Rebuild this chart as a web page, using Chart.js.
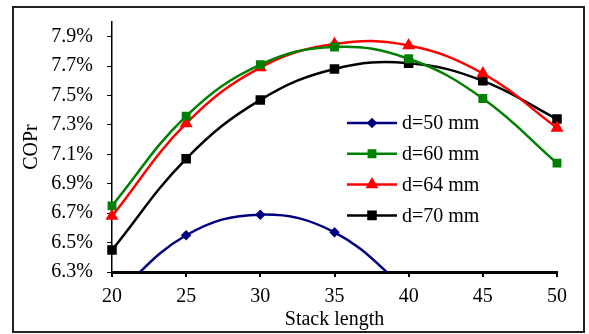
<!DOCTYPE html>
<html>
<head>
<meta charset="utf-8">
<script src="https://cdn.jsdelivr.net/npm/chart.js@4.4.0/dist/chart.umd.min.js"></script>
<style>
  html, body { margin: 0; padding: 0; background: #fff; }
  #wrap { width: 589px; height: 334px; position: relative; }
</style>
</head>
<body>
<div id="wrap"><canvas id="copChart" width="589" height="334"></canvas></div>
<script>
// Datos (COPr en %)
const stackLength = [20, 25, 30, 35, 40, 45, 50];
const yTicks = [6.3, 6.5, 6.7, 6.9, 7.1, 7.3, 7.5, 7.7, 7.9];
const seriesNames = ['d=50 mm', 'd=60 mm', 'd=64 mm', 'd=70 mm'];
const d50 = [6.12, 6.55, 6.69, 6.57, 6.17, null, null];
const d60 = [6.75, 7.36, 7.71, 7.83, 7.75, 7.48, 7.04];
const d64 = [6.68, 7.31, 7.69, 7.85, 7.84, 7.65, 7.28];
const d70 = [6.45, 7.07, 7.47, 7.68, 7.72, 7.60, 7.34];

const fontFamily = '"Liberation Serif", "Times New Roman", serif';

// Marco exterior del gráfico
const framePlugin = {
  id: 'frame',
  afterDraw(chart) {
    const ctx = chart.ctx;
    ctx.save();
    ctx.strokeStyle = '#222';
    ctx.lineWidth = 2;
    ctx.strokeRect(13, 7, 571, 325);
    ctx.restore();
  },
};

// Leyenda dentro del área del gráfico
const legendPlugin = {
  id: 'innerLegend',
  afterDatasetsDraw(chart) {
    const ctx = chart.ctx;
    const x0 = 347, x1 = 397, y0 = 123, step = 30.8;
    ctx.save();
    chart.data.datasets.forEach((ds, i) => {
      const y = y0 + i * step;
      ctx.strokeStyle = ds.borderColor;
      ctx.lineWidth = ds.borderWidth;
      ctx.beginPath();
      ctx.moveTo(x0, y);
      ctx.lineTo(x1, y);
      ctx.stroke();
      ctx.fillStyle = ds.borderColor;
      Chart.helpers.drawPoint(ctx, {
        pointStyle: ds.pointStyle,
        radius: ds.pointRadius,
        rotation: 0,
        borderWidth: 1,
      }, (x0 + x1) / 2, y);
      ctx.fillStyle = '#000';
      ctx.font = '20px ' + fontFamily;
      ctx.textBaseline = 'middle';
      ctx.textAlign = 'left';
      ctx.fillText(ds.label, 402, y + 1);
    });
    ctx.restore();
  },
};

function makeDataset(label, data, color, style, radius) {
  return {
    label: label,
    data: data,
    borderColor: color,
    backgroundColor: color,
    pointBackgroundColor: color,
    pointBorderColor: color,
    borderWidth: 2.5,
    pointStyle: style,
    pointRadius: radius,
    tension: 0.4,
    spanGaps: false,
  };
}

const ctx = document.getElementById('copChart').getContext('2d');
new Chart(ctx, {
  type: 'line',
  data: {
    labels: stackLength,
    datasets: [
      makeDataset(seriesNames[0], d50, '#000080', 'rectRot', 3.5),
      makeDataset(seriesNames[1], d60, '#008000', 'rect', 4.5),
      makeDataset(seriesNames[2], d64, '#ff0000', 'triangle', 5),
      makeDataset(seriesNames[3], d70, '#000000', 'rect', 5),
    ],
  },
  options: {
    responsive: false,
    animation: false,
    devicePixelRatio: 1,
    layout: { padding: { left: 16, right: 32, top: 22, bottom: 1 } },
    plugins: {
      legend: { display: false },
      tooltip: { enabled: false },
    },
    scales: {
      x: {
        type: 'category',
        offset: false,
        grid: { drawOnChartArea: false, tickLength: 5, color: '#000', lineWidth: 2 },
        border: { color: '#000', width: 3 },
        ticks: { color: '#000', font: { family: fontFamily, size: 20 }, padding: 8, maxRotation: 0 },
        title: {
          display: true,
          text: 'Stack length',
          color: '#000',
          font: { family: fontFamily, size: 20 },
          padding: { top: 0, bottom: 1 },
        },
        afterFit(scale) {
          scale.height = 61;
          scale.paddingLeft = 0;
          scale.paddingRight = 0;
        },
      },
      y: {
        min: 6.3,
        max: 8.0,
        grid: { drawOnChartArea: false, tickLength: 5, color: '#000' },
        border: { color: '#000', width: 1.5 },
        ticks: {
          color: '#000',
          font: { family: fontFamily, size: 20 },
          padding: 14,
          callback: (v) => v.toFixed(1) + '%',
        },
        afterBuildTicks(scale) {
          scale.ticks = yTicks.map((v) => ({ value: v }));
        },
        title: {
          display: true,
          text: 'COPr',
          color: '#000',
          font: { family: fontFamily, size: 20 },
          padding: { top: 4, bottom: 0 },
        },
        afterFit(scale) {
          scale.width = 96;
          scale.paddingTop = 0;
          scale.paddingBottom = 0;
        },
      },
    },
  },
  plugins: [framePlugin, legendPlugin],
});
</script>
</body>
</html>
